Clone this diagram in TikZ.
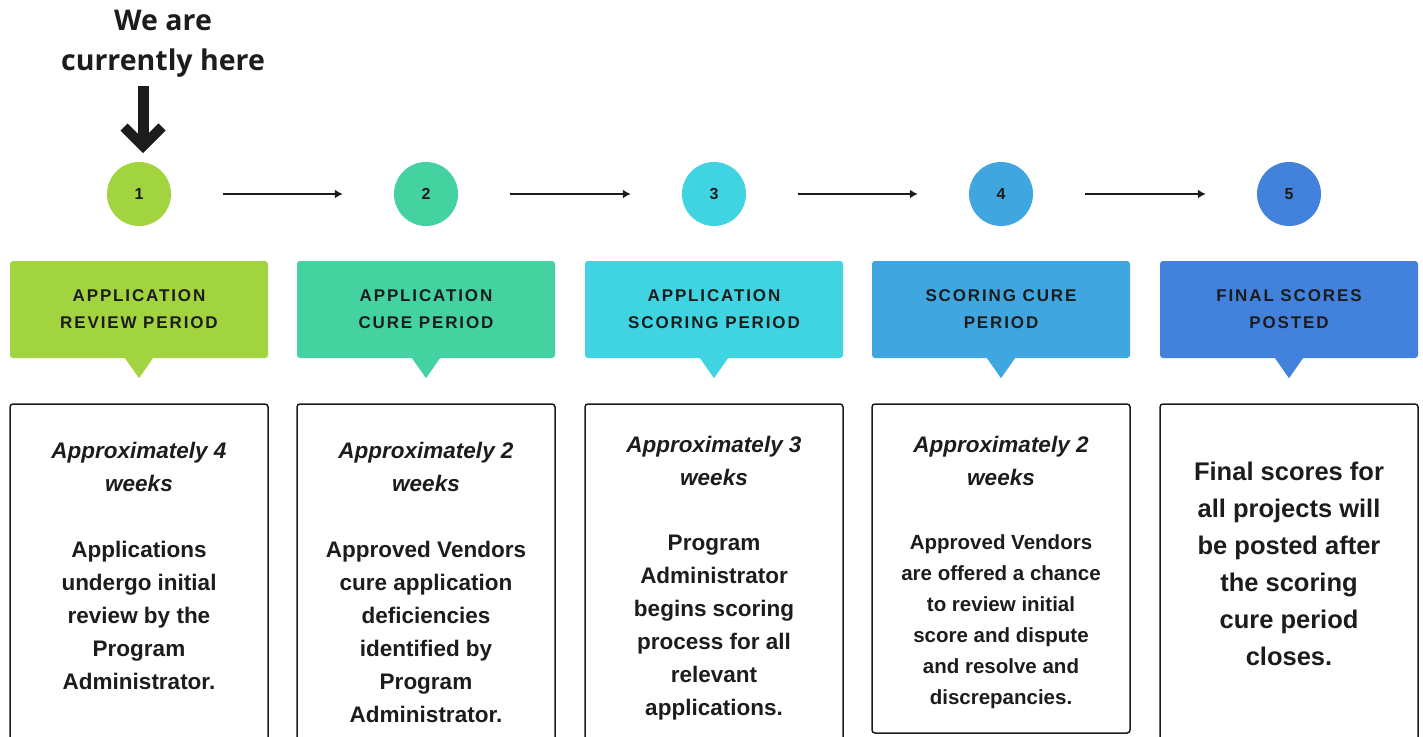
\documentclass[tikz,border=0pt]{standalone}
\usepackage{fontspec}
\setmainfont{Liberation Sans}
\newfontfamily\headfont[LetterSpace=11]{Liberation Sans}
\newfontfamily\topfont{Open Sans}
\usetikzlibrary{arrows.meta,positioning}

\definecolor{stepA}{HTML}{A2D43F}
\definecolor{stepB}{HTML}{44D2A0}
\definecolor{stepC}{HTML}{40D4E2}
\definecolor{stepD}{HTML}{40A6E0}
\definecolor{stepE}{HTML}{4282DC}
\definecolor{ink}{HTML}{1C1C1C}

\tikzset{
  stepnum/.style={circle, minimum size=64pt, inner sep=0pt, text=ink,
    font=\bfseries\fontsize{16}{16}\selectfont},
  head/.style={rounded corners=3pt, minimum width=258pt, minimum height=97pt,
    inner sep=0pt, align=center, text=ink,
    font=\headfont\bfseries\fontsize{17}{27}\selectfont},
  box/.style={draw=ink, line width=1.5pt, rounded corners=3pt,
    minimum width=258pt, inner sep=0pt},
  dur/.style={anchor=north, inner sep=0pt, align=center, text=ink,
    font=\bfseries\itshape\fontsize{22.5}{33}\selectfont},
  task/.style={anchor=north, inner sep=0pt, align=center, text=ink,
    font=\bfseries\fontsize{22.5}{33}\selectfont},
  flow/.style={-{Latex[length=8pt,width=9pt]}, line width=1.7pt, draw=ink,
    shorten <=52pt, shorten >=51pt}
}

\begin{document}
\begin{tikzpicture}[x=1pt, y=-1pt]
      \useasboundingbox (0,0) rectangle (1423,736);
      \clip (0,0) rectangle (1423,736);

      \node[font=\topfont\bfseries\fontsize{28.5}{40}\selectfont, align=center, text=ink] (where) at (163,44) {We are\\currently here};
      \coordinate (hereTop) at (143,86);
      \coordinate (hereTip) at (143,146);
      \draw[line width=11pt, ink] (hereTop) -- (hereTip);
      \draw[line width=10pt, ink, line join=miter] (hereTip) ++(-19,-19) -- (hereTip) -- ++(19,-19);

      \foreach \i/\x/\col/\txt in {1/139/stepA/{APPLICATION\\REVIEW PERIOD},
          2/426/stepB/{APPLICATION\\CURE PERIOD}, 3/714/stepC/{APPLICATION\\SCORING PERIOD},
          4/1001/stepD/{SCORING CURE\\PERIOD}, 5/1289/stepE/{FINAL SCORES\\POSTED}} {
        \node[stepnum, fill=\col] (c\i) at (\x,194) {\i};
        \node[head, fill=\col] (hd\i) at (\x,309.5) {\txt};
        \fill[\col] (hd\i.south) ++(-14,0) -- ++(14,20) -- ++(14,-20) -- cycle;
      }
      \draw[flow] (c1) -- (c2);
      \draw[flow] (c2) -- (c3);
      \draw[flow] (c3) -- (c4);
      \draw[flow] (c4) -- (c5);

      \node[box, minimum height=356pt] (b1) at (139,582) {};
      \node[box, minimum height=356pt] (b2) at (426,582) {};
      \node[box, minimum height=356pt] (b3) at (714,582) {};
      \node[box, minimum height=329pt] (b4) at (1001,568.5) {};
      \node[box, minimum height=356pt] (b5) at (1289,582) {};

      \node[dur] (d1) at (139,442) {Approximately 4\\weeks};
      \node[task] (t1) at (139,541) {Applications\\undergo initial\\review by the\\Program\\Administrator.};
      \node[dur] (d2) at (426,442) {Approximately 2\\weeks};
      \node[task] (t2) at (426,541) {Approved Vendors\\cure application\\deficiencies\\identified by\\Program\\Administrator.};
      \node[dur] (d3) at (714,436) {Approximately 3\\weeks};
      \node[task] (t3) at (714,535) {Program\\Administrator\\begins scoring\\process for all\\relevant\\applications.};
      \node[dur] (d4) at (1001,436) {Approximately 2\\weeks};
      \node[task, font=\bfseries\fontsize{20.5}{31}\selectfont] (t4) at (1001,534) {Approved Vendors\\are offered a chance\\to review initial\\score and dispute\\and resolve and\\discrepancies.};
      \node[task, font=\bfseries\fontsize{25.5}{37}\selectfont] (t5) at (1289,462) {Final scores for\\all projects will\\be posted after\\the scoring\\cure period\\closes.};
      %\draw (b5.south) -- (b5.north);
\end{tikzpicture}
\end{document}
